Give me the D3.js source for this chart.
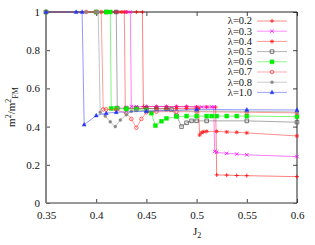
<!DOCTYPE html>
<html>
<head>
<meta charset="utf-8">
<script src="https://cdn.jsdelivr.net/npm/d3@7"></script>
<style>
  body { margin: 0; background: #fff; }
  svg text { font-family: "Liberation Serif", "DejaVu Serif", serif; fill: #111; }
</style>
</head>
<body>
<div id="chart"></div>
<script>
// legend labels, one per series
var labels = ["λ=0.2", "λ=0.3", "λ=0.4", "λ=0.5", "λ=0.6", "λ=0.7", "λ=0.8", "λ=1.0"];

// J2 values and m^2/m^2_FM values
var j02 = [0.35, 0.40, 0.42, 0.43, 0.44, 0.446, 0.447, 0.45, 0.46, 0.47, 0.48, 0.49, 0.50, 0.51, 0.519, 0.52, 0.53, 0.54, 0.55, 0.60];
var m02 = [1, 1, 1, 1, 1, 1, 0.505, 0.505, 0.505, 0.505, 0.505, 0.505, 0.503, 0.502, 0.502, 0.147, 0.146, 0.144, 0.143, 0.138];

var j03 = [0.35, 0.40, 0.42, 0.43, 0.434, 0.435, 0.44, 0.45, 0.46, 0.47, 0.48, 0.49, 0.50, 0.505, 0.51, 0.515, 0.517, 0.518, 0.52, 0.53, 0.54, 0.55, 0.60];
var m03 = [1, 1, 1, 1, 1, 0.505, 0.505, 0.505, 0.505, 0.505, 0.504, 0.504, 0.503, 0.503, 0.503, 0.503, 0.503, 0.27, 0.265, 0.26, 0.256, 0.252, 0.243];

var j04 = [0.35, 0.40, 0.41, 0.42, 0.425, 0.428, 0.429, 0.44, 0.45, 0.46, 0.47, 0.48, 0.49, 0.50, 0.502, 0.503, 0.505, 0.507, 0.51, 0.52, 0.53, 0.54, 0.55, 0.60];
var m04 = [1, 1, 1, 1, 1, 1, 0.495, 0.495, 0.495, 0.495, 0.495, 0.495, 0.495, 0.495, 0.495, 0.356, 0.368, 0.373, 0.375, 0.375, 0.372, 0.37, 0.367, 0.351];

var j05 = [0.35, 0.40, 0.41, 0.42, 0.421, 0.43, 0.44, 0.45, 0.46, 0.47, 0.475, 0.48, 0.485, 0.49, 0.495, 0.50, 0.51, 0.55, 0.60];
var m05 = [1, 1, 1, 1, 0.497, 0.497, 0.497, 0.495, 0.493, 0.492, 0.49, 0.457, 0.40, 0.42, 0.43, 0.43, 0.43, 0.43, 0.423];

var j06 = [0.35, 0.40, 0.41, 0.414, 0.415, 0.42, 0.43, 0.44, 0.45, 0.455, 0.459, 0.465, 0.47, 0.48, 0.49, 0.50, 0.51, 0.515, 0.52, 0.53, 0.54, 0.55, 0.60];
var m06 = [1, 1, 1, 1, 0.495, 0.495, 0.492, 0.49, 0.485, 0.47, 0.405, 0.428, 0.443, 0.452, 0.455, 0.455, 0.455, 0.455, 0.455, 0.455, 0.455, 0.455, 0.452];

var j07 = [0.35, 0.39, 0.40, 0.405, 0.407, 0.41, 0.42, 0.43, 0.435, 0.44, 0.445, 0.45, 0.46, 0.48, 0.50, 0.55, 0.60];
var m07 = [1, 1, 1, 1, 0.49, 0.49, 0.488, 0.47, 0.44, 0.394, 0.44, 0.475, 0.478, 0.478, 0.478, 0.475, 0.472];

var j08 = [0.35, 0.39, 0.40, 0.402, 0.404, 0.409, 0.414, 0.419, 0.424, 0.43, 0.435, 0.44, 0.45, 0.50, 0.55, 0.60];
var m08 = [1, 1, 1, 1, 0.475, 0.455, 0.425, 0.40, 0.435, 0.462, 0.48, 0.485, 0.485, 0.482, 0.48, 0.477];

var j10 = [0.35, 0.38, 0.386, 0.388, 0.40, 0.41, 0.42, 0.45, 0.50, 0.55, 0.60];
var m10 = [1, 1, 1, 0.41, 0.458, 0.47, 0.475, 0.48, 0.49, 0.488, 0.487];

var xTicks = [0.35, 0.4, 0.45, 0.5, 0.55, 0.6];
var yTicks = [0, 0.2, 0.4, 0.6, 0.8, 1];

// styles
var styles = [
  {color: "#ff0000", mark: "plus"},
  {color: "#ff00ff", mark: "cross"},
  {color: "#ff2020", mark: "star"},
  {color: "#555555", mark: "openSquare"},
  {color: "#00ee00", mark: "square"},
  {color: "#ff4040", mark: "openCircle"},
  {color: "#888888", mark: "dot"},
  {color: "#2233ff", mark: "triangle"}
];

var jAll = [j02, j03, j04, j05, j06, j07, j08, j10];
var mAll = [m02, m03, m04, m05, m06, m07, m08, m10];

var series = labels.map(function(l, i) {
  return {
    label: l,
    style: styles[i],
    values: jAll[i].map(function(j, k) { return {j: j, m: mAll[i][k]}; })
  };
});

var width = 315, height = 245;
var pLeft = 46, pRight = 297, pTop = 12, pBottom = 203;

var svg = d3.select("#chart").append("svg")
  .attr("width", width)
  .attr("height", height);

var x = d3.scaleLinear().domain([0.35, 0.6]).range([pLeft, pRight]);
var y = d3.scaleLinear().domain([0, 1]).range([pBottom, pTop]);

var fmt = function(d) { return String(+d.toFixed(2)); };

// axes with inward ticks
var gx = svg.append("g").attr("transform", "translate(0," + pBottom + ")")
  .call(d3.axisBottom(x).tickValues(xTicks).tickFormat(fmt).tickSizeInner(-4).tickSizeOuter(0).tickPadding(8));
var gy = svg.append("g").attr("transform", "translate(" + pLeft + ",0)")
  .call(d3.axisLeft(y).tickValues(yTicks).tickFormat(fmt).tickSizeInner(-4).tickSizeOuter(0).tickPadding(6));
var gt = svg.append("g").attr("transform", "translate(0," + pTop + ")")
  .call(d3.axisTop(x).tickValues(xTicks).tickFormat("").tickSizeInner(-4).tickSizeOuter(0));
var gr = svg.append("g").attr("transform", "translate(" + pRight + ",0)")
  .call(d3.axisRight(y).tickValues(yTicks).tickFormat("").tickSizeInner(-4).tickSizeOuter(0));

[gx, gy, gt, gr].forEach(function(g) {
  g.attr("font-family", "Liberation Serif, serif");
  g.select(".domain").remove();
  g.selectAll(".tick line").attr("stroke", "#444");
  g.selectAll("text").attr("font-size", 11).attr("fill", "#111");
});

// frame
svg.append("line").attr("x1", pLeft).attr("x2", pLeft).attr("y1", pTop).attr("y2", pBottom)
  .attr("stroke", "#888").attr("stroke-width", 2);
svg.append("line").attr("x1", pLeft).attr("x2", pRight).attr("y1", pBottom).attr("y2", pBottom)
  .attr("stroke", "#777").attr("stroke-width", 1.5);
svg.append("line").attr("x1", pRight).attr("x2", pRight).attr("y1", pTop).attr("y2", pBottom)
  .attr("stroke", "#222").attr("stroke-width", 1);
svg.append("line").attr("x1", pLeft).attr("x2", pRight).attr("y1", pTop).attr("y2", pTop)
  .attr("stroke", "#222").attr("stroke-width", 1);

function markerPath(type, s) {
  if (type === "plus") return "M" + (-s) + ",0H" + s + "M0," + (-s) + "V" + s;
  if (type === "cross") return "M" + (-s) + "," + (-s) + "L" + s + "," + s + "M" + (-s) + "," + s + "L" + s + "," + (-s);
  if (type === "star") {
    var t = s * 0.75;
    return "M" + (-s) + ",0H" + s + "M0," + (-s) + "V" + s +
      "M" + (-t) + "," + (-t) + "L" + t + "," + t + "M" + (-t) + "," + t + "L" + t + "," + (-t);
  }
  if (type === "openSquare" || type === "square") return "M" + (-s) + "," + (-s) + "h" + 2 * s + "v" + 2 * s + "h" + (-2 * s) + "Z";
  if (type === "openCircle" || type === "dot") return "M" + s + ",0A" + s + "," + s + " 0 1,1 " + (-s) + ",0A" + s + "," + s + " 0 1,1 " + s + ",0Z";
  if (type === "triangle") return "M0," + (-s * 1.1) + "L" + s + "," + s * 0.7 + "L" + (-s) + "," + s * 0.7 + "Z";
}

var markSize = {plus: 2, cross: 1.7, star: 2, openSquare: 1.8, square: 2, openCircle: 1.8, dot: 1.5, triangle: 2};

function drawMark(g, type, color) {
  var filled = (type === "square" || type === "dot" || type === "triangle");
  g.append("path")
    .attr("d", markerPath(type, markSize[type]))
    .attr("fill", filled ? color : "none")
    .attr("stroke", color)
    .attr("stroke-width", filled ? 0.4 : 0.8);
}

var line = d3.line()
  .x(function(d) { return x(d.j); })
  .y(function(d) { return y(d.m); });

var plot = svg.append("g");

series.forEach(function(s) {
  plot.append("path")
    .datum(s.values)
    .attr("d", line)
    .attr("fill", "none")
    .attr("stroke", s.style.color)
    .attr("stroke-opacity", 0.5)
    .attr("stroke-width", 1);
  plot.selectAll(null)
    .data(s.values)
    .enter().append("g")
      .attr("transform", function(d) { return "translate(" + x(d.j) + "," + y(d.m) + ")"; })
      .each(function() { drawMark(d3.select(this), s.style.mark, s.style.color); });
});

// legend
var legend = svg.append("g");
series.forEach(function(s, i) {
  var ly = 21 + i * 10.2;
  legend.append("text")
    .attr("x", 252).attr("y", ly)
    .attr("dy", "0.33em")
    .attr("text-anchor", "end")
    .attr("font-size", 10.5)
    .text(s.label);
  legend.append("line")
    .attr("x1", 257).attr("x2", 287).attr("y1", ly).attr("y2", ly)
    .attr("stroke", s.style.color).attr("stroke-opacity", 0.45).attr("stroke-width", 1);
  var g = legend.append("g").attr("transform", "translate(272," + ly + ")");
  drawMark(g, s.style.mark, s.style.color);
});

// axis titles
var xl = svg.append("text").attr("x", 193).attr("y", 235).attr("font-size", 11);
xl.append("tspan").text("J");
xl.append("tspan").attr("dy", 3).attr("font-size", 8).text("2");

var yl = svg.append("text")
  .attr("transform", "translate(15,107) rotate(-90)")
  .attr("text-anchor", "middle")
  .attr("font-size", 11);
yl.append("tspan").text("m");
yl.append("tspan").attr("dy", -4).attr("font-size", 8).text("2");
yl.append("tspan").attr("dy", 4).text("/m");
yl.append("tspan").attr("dy", -4).attr("font-size", 8).text("2");
yl.append("tspan").attr("dy", 7).attr("font-size", 8).text("FM");
</script>
</body>
</html>
